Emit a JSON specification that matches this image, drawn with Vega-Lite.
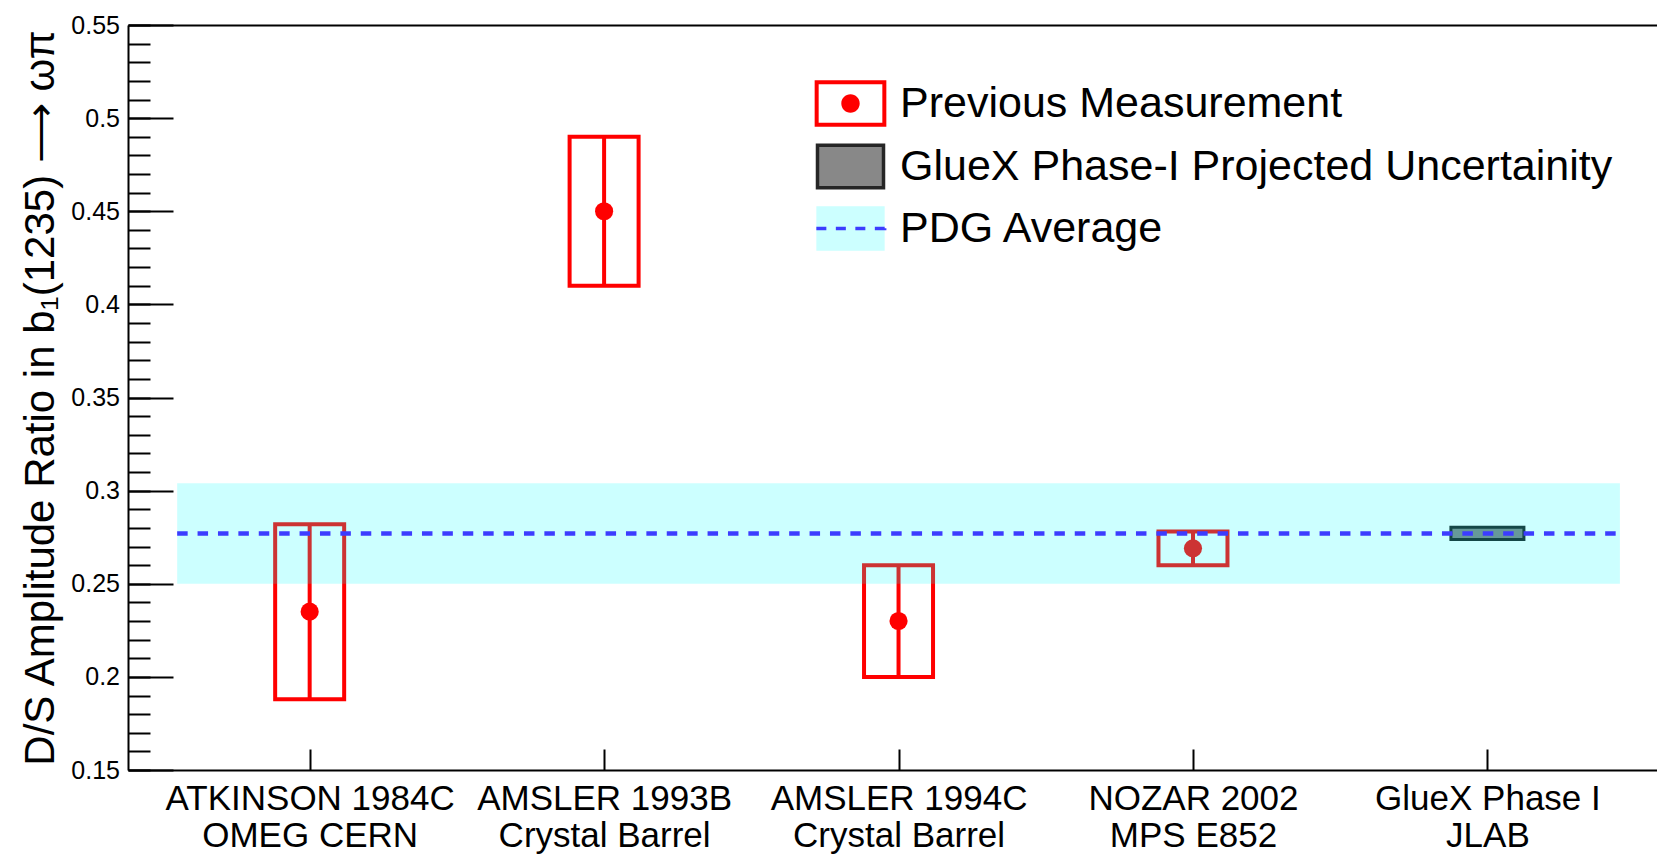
{
  "$schema": "https://vega.github.io/schema/vega-lite/v6.json",
  "autosize": {"type": "none"},
  "padding": {"left": 128, "top": 25, "right": 0, "bottom": 90},
  "width": 1529,
  "height": 745,
  "background": "white",
  "config": {"view": {"stroke": null}, "font": "Liberation Sans"},
  "datasets": {
    "rows": [
      {"experiment": "ATKINSON 1984C", "detector": "OMEG CERN", "bin": 1, "ratio": 0.235, "low": 0.188, "high": 0.282, "kind": "Previous Measurement"},
      {"experiment": "AMSLER 1993B", "detector": "Crystal Barrel", "bin": 2, "ratio": 0.45, "low": 0.41, "high": 0.49, "kind": "Previous Measurement"},
      {"experiment": "AMSLER 1994C", "detector": "Crystal Barrel", "bin": 3, "ratio": 0.23, "low": 0.2, "high": 0.26, "kind": "Previous Measurement"},
      {"experiment": "NOZAR 2002", "detector": "MPS E852", "bin": 4, "ratio": 0.269, "low": 0.26, "high": 0.278, "kind": "Previous Measurement"},
      {"experiment": "GlueX Phase I", "detector": "JLAB", "bin": 5, "ratio": 0.277, "low": 0.2737, "high": 0.2803, "kind": "GlueX Phase-I Projected Uncertainity"},
      {"experiment": "PDG", "detector": "", "bin": null, "ratio": 0.277, "low": 0.25, "high": 0.304, "kind": "PDG Average"}
    ]
  },
  "data": {"name": "rows"},
  "layer": [
    {
      "transform": [{"filter": "datum.kind == 'Previous Measurement'"}],
      "mark": {"type": "bar", "width": 69, "fill": "transparent", "stroke": "#ff0000", "strokeWidth": 4},
      "encoding": {
        "x": {
          "field": "bin", "type": "quantitative",
          "scale": {"domain": [0.4, 5.559], "nice": false, "zero": false},
          "axis": {
            "orient": "bottom", "values": [1, 2, 3, 4, 5], "title": null, "grid": false,
            "domainColor": "black", "domainWidth": 2,
            "tickColor": "black", "tickWidth": 2, "tickSize": -21,
            "labelPadding": 32.5, "labelFont": "Liberation Sans", "labelFontSize": 35, "labelColor": "black",
            "labelBaseline": "top", "labelAlign": "center", "labelLineHeight": 37, "labelLimit": 1000,
            "labelOverlap": false, "labelFlush": false, "labelBound": false,
            "labelExpr": "datum.value == 1 ? ['ATKINSON 1984C', 'OMEG CERN'] : datum.value == 2 ? ['AMSLER 1993B', 'Crystal Barrel'] : datum.value == 3 ? ['AMSLER 1994C', 'Crystal Barrel'] : datum.value == 4 ? ['NOZAR 2002', 'MPS E852'] : ['GlueX Phase I', 'JLAB']"
          }
        },
        "y": {
          "field": "low", "type": "quantitative",
          "scale": {"domain": [0.15, 0.55], "nice": false, "zero": false},
          "axis": {
            "orient": "left", "values": [0.15, 0.2, 0.25, 0.3, 0.35, 0.4, 0.45, 0.5, 0.55],
            "format": ".2~f", "grid": false,
            "domainColor": "black", "domainWidth": 2,
            "tickColor": "black", "tickWidth": 2, "tickSize": -45,
            "labelPadding": 53.5, "labelFont": "Liberation Sans", "labelFontSize": 25, "labelColor": "black",
            "labelAlign": "right", "labelBaseline": "middle",
            "labelOverlap": false, "labelFlush": false, "labelBound": false,
            "title": "D/S Amplitude Ratio in b₁(1235) ⟶ ωπ",
            "titleFont": "Liberation Sans", "titleFontSize": 42, "titleFontWeight": "normal",
            "titleColor": "black", "titlePadding": 8
          }
        },
        "y2": {"field": "high"}
      }
    },
    {
      "transform": [{"filter": "datum.kind == 'GlueX Phase-I Projected Uncertainity'"}],
      "mark": {"type": "bar", "width": 73, "fill": "#808080", "stroke": "#1a1a1a", "strokeWidth": 3},
      "encoding": {
        "x": {"field": "bin", "type": "quantitative", "axis": null},
        "y": {"field": "low", "type": "quantitative", "axis": null},
        "y2": {"field": "high"}
      }
    },
    {
      "transform": [{"filter": "datum.kind == 'Previous Measurement'"}],
      "mark": {"type": "rule", "stroke": "#ff0000", "strokeWidth": 4},
      "encoding": {
        "x": {"field": "bin", "type": "quantitative", "axis": null},
        "y": {"field": "low", "type": "quantitative", "axis": null},
        "y2": {"field": "high"}
      }
    },
    {
      "transform": [{"filter": "datum.kind == 'Previous Measurement'"}],
      "mark": {"type": "point", "shape": "circle", "filled": true, "fill": "#ff0000", "strokeWidth": 0, "size": 330, "opacity": 1},
      "encoding": {
        "x": {"field": "bin", "type": "quantitative", "axis": null},
        "y": {"field": "ratio", "type": "quantitative", "axis": null}
      }
    },
    {
      "transform": [{"filter": "datum.kind == 'PDG Average'"}],
      "mark": {"type": "rect", "fill": "#00ffff", "fillOpacity": 0.2},
      "encoding": {
        "x": {"datum": 0.55, "type": "quantitative", "axis": null},
        "x2": {"datum": 5.45},
        "y": {"field": "low", "type": "quantitative", "axis": null},
        "y2": {"field": "high"}
      }
    },
    {
      "transform": [{"filter": "datum.kind == 'PDG Average'"}],
      "mark": {"type": "rule", "stroke": "#3c3cff", "strokeWidth": 4.5, "strokeDash": [10.5, 9.9]},
      "encoding": {
        "x": {"datum": 0.55, "type": "quantitative", "axis": null},
        "x2": {"datum": 5.45},
        "y": {"field": "ratio", "type": "quantitative", "axis": null}
      }
    },
    {
      "transform": [{"filter": "false"}],
      "mark": {"type": "point", "filled": true, "strokeWidth": 3.5, "opacity": 1},
      "encoding": {
        "shape": {
          "field": "kind", "type": "nominal",
          "scale": {
            "domain": ["Previous Measurement", "GlueX Phase-I Projected Uncertainity", "PDG Average"],
            "range": [
              "M-1.593,-1.038L1.593,-1.038L1.593,1.038L-1.593,1.038ZM-1.415,-0.86L-1.415,0.86L1.415,0.86L1.415,-0.86ZM-0.409,0C-0.409,-0.2259,-0.2259,-0.409,0,-0.409C0.2259,-0.409,0.409,-0.2259,0.409,0C0.409,0.2259,0.2259,0.409,0,0.409C-0.2259,0.409,-0.409,0.2259,-0.409,0Z",
              "M-1.467,-0.947L1.467,-0.947L1.467,0.947L-1.467,0.947Z",
              "M-1.518,0L1.518,0L1.518,-0.984L-1.518,-0.984L-1.518,0.984L1.518,0.984L1.518,0Z"
            ]
          },
          "legend": {
            "orient": "none", "legendX": 698, "legendY": 54, "title": null, "padding": 0,
            "symbolSize": 2025, "symbolStrokeWidth": 3.5, "symbolOffset": 0, "symbolOpacity": 1,
            "labelFont": "Liberation Sans", "labelFontSize": 43, "labelColor": "black",
            "labelOffset": 25, "labelLimit": 1000, "rowPadding": 4, "direction": "vertical"
          }
        },
        "fill": {
          "field": "kind", "type": "nominal",
          "scale": {
            "domain": ["Previous Measurement", "GlueX Phase-I Projected Uncertainity", "PDG Average"],
            "range": ["#ff0000", "#888888", "#ccffff"]
          },
          "legend": {
            "orient": "none", "legendX": 698, "legendY": 54, "title": null, "padding": 0,
            "symbolSize": 2025, "symbolStrokeWidth": 3.5, "symbolOffset": 0, "symbolOpacity": 1,
            "labelFont": "Liberation Sans", "labelFontSize": 43, "labelColor": "black",
            "labelOffset": 25, "labelLimit": 1000, "rowPadding": 4, "direction": "vertical"
          }
        },
        "stroke": {
          "field": "kind", "type": "nominal",
          "scale": {
            "domain": ["Previous Measurement", "GlueX Phase-I Projected Uncertainity", "PDG Average"],
            "range": ["transparent", "#262626", "#3c3cff"]
          },
          "legend": {
            "orient": "none", "legendX": 698, "legendY": 54, "title": null, "padding": 0,
            "symbolSize": 2025, "symbolStrokeWidth": 3.5, "symbolOffset": 0, "symbolOpacity": 1,
            "labelFont": "Liberation Sans", "labelFontSize": 43, "labelColor": "black",
            "labelOffset": 25, "labelLimit": 1000, "rowPadding": 4, "direction": "vertical"
          }
        },
        "strokeDash": {
          "field": "kind", "type": "nominal",
          "scale": {
            "domain": ["Previous Measurement", "GlueX Phase-I Projected Uncertainity", "PDG Average"],
            "range": [[1, 0], [1, 0], [10, 9.5, 10, 9.5, 10, 9.5, 10, 1000]]
          },
          "legend": {
            "orient": "none", "legendX": 698, "legendY": 54, "title": null, "padding": 0,
            "symbolSize": 2025, "symbolStrokeWidth": 3.5, "symbolOffset": 0, "symbolOpacity": 1,
            "labelFont": "Liberation Sans", "labelFontSize": 43, "labelColor": "black",
            "labelOffset": 25, "labelLimit": 1000, "rowPadding": 4, "direction": "vertical"
          }
        }
      }
    },
    {
      "transform": [{"filter": "false"}],
      "mark": {"type": "rule"},
      "encoding": {
        "x": {
          "field": "bin", "type": "quantitative",
          "axis": {"orient": "top", "domain": true, "domainColor": "black", "domainWidth": 2, "ticks": false, "labels": false, "grid": false, "title": null}
        },
        "y": {
          "field": "ratio", "type": "quantitative",
          "axis": {
            "orient": "left", "domain": false, "labels": false, "grid": false, "title": null,
            "ticks": true, "tickSize": -22, "tickWidth": 2, "tickColor": "black",
            "values": [0.15, 0.16, 0.17, 0.18, 0.19, 0.2, 0.21, 0.22, 0.23, 0.24, 0.25, 0.26, 0.27, 0.28, 0.29, 0.3, 0.31, 0.32, 0.33, 0.34, 0.35, 0.36, 0.37, 0.38, 0.39, 0.4, 0.41, 0.42, 0.43, 0.44, 0.45, 0.46, 0.47, 0.48, 0.49, 0.5, 0.51, 0.52, 0.53, 0.54, 0.55]
          }
        }
      }
    }
  ],
  "resolve": {
    "scale": {"x": "shared", "y": "shared"},
    "axis": {"x": "independent", "y": "independent"}
  }
}
